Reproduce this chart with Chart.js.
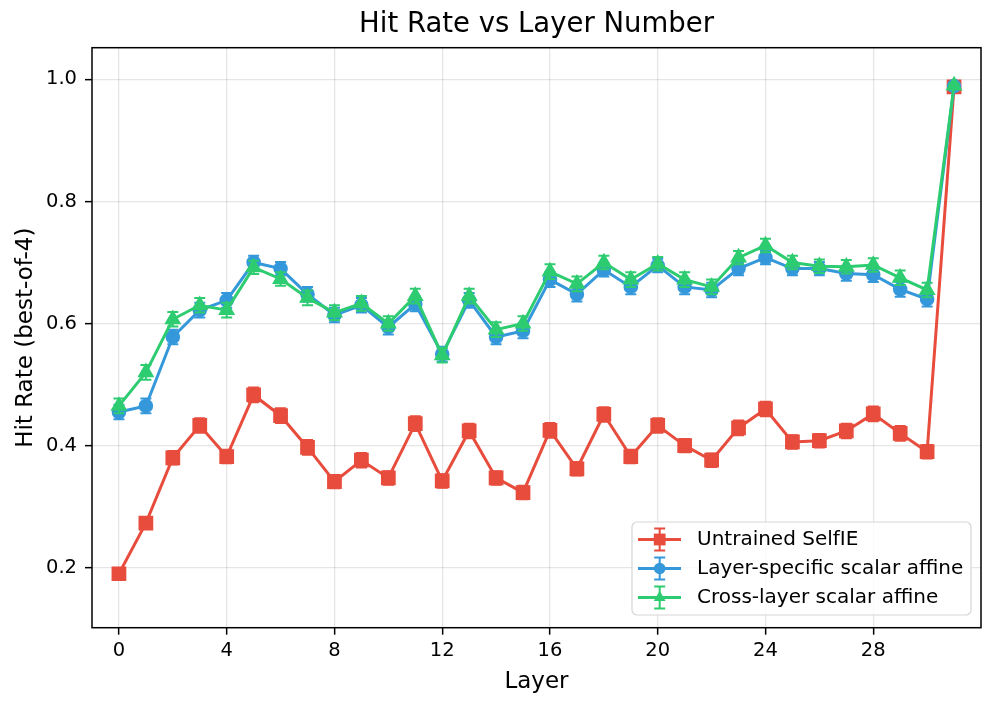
<!DOCTYPE html>
<html lang="en">
<head>
    <meta charset="UTF-8">
    <title>Hit Rate vs Layer Number</title>
    <style>
        body {
            margin: 0;
            background-color: #ffffff;
        }
        #wrap {
            width: 996px;
            height: 706px;
        }
    </style>
</head>
<body>
    <div id="wrap">
        <canvas id="hitChart" width="996" height="706"></canvas>
    </div>

    <script src="https://cdn.jsdelivr.net/npm/chart.js"></script>
    <script>
        // Data
        const layers = [0, 1, 2, 3, 4, 5, 6, 7, 8, 9, 10, 11, 12, 13, 14, 15,
                        16, 17, 18, 19, 20, 21, 22, 23, 24, 25, 26, 27, 28, 29, 30, 31];

        const untrained = [0.190, 0.273, 0.380, 0.433, 0.382, 0.483, 0.449, 0.397, 0.341, 0.376, 0.347, 0.436,
                           0.342, 0.424, 0.347, 0.323, 0.425, 0.362, 0.451, 0.382, 0.433, 0.400, 0.376, 0.429,
                           0.460, 0.406, 0.408, 0.424, 0.452, 0.420, 0.390, 0.988];
        const untrainedErr = [0.006, 0.009, 0.011, 0.012, 0.011, 0.012, 0.012, 0.012, 0.011, 0.012, 0.011, 0.012,
                              0.011, 0.012, 0.011, 0.011, 0.012, 0.011, 0.012, 0.011, 0.012, 0.011, 0.011, 0.012,
                              0.012, 0.011, 0.011, 0.012, 0.012, 0.012, 0.011, 0.003];

        const layerSpecific = [0.455, 0.465, 0.578, 0.622, 0.638, 0.700, 0.690, 0.648, 0.614, 0.630, 0.594, 0.632,
                               0.550, 0.638, 0.578, 0.588, 0.672, 0.648, 0.688, 0.660, 0.695, 0.660, 0.655, 0.690,
                               0.708, 0.690, 0.690, 0.682, 0.680, 0.656, 0.640, 0.989];
        const layerSpecificErr = [0.012, 0.012, 0.012, 0.012, 0.012, 0.011, 0.011, 0.012, 0.012, 0.012, 0.012, 0.012,
                                  0.012, 0.012, 0.012, 0.012, 0.012, 0.012, 0.011, 0.012, 0.011, 0.012, 0.012, 0.011,
                                  0.011, 0.011, 0.011, 0.012, 0.012, 0.012, 0.012, 0.003];

        const crossLayer = [0.465, 0.520, 0.607, 0.630, 0.622, 0.692, 0.673, 0.642, 0.618, 0.633, 0.600, 0.645,
                            0.548, 0.645, 0.590, 0.600, 0.685, 0.665, 0.700, 0.672, 0.698, 0.672, 0.660, 0.708,
                            0.728, 0.700, 0.694, 0.693, 0.696, 0.675, 0.655, 0.990];
        const crossLayerErr = [0.012, 0.012, 0.012, 0.012, 0.012, 0.011, 0.011, 0.012, 0.012, 0.012, 0.012, 0.012,
                               0.012, 0.012, 0.012, 0.012, 0.012, 0.012, 0.011, 0.012, 0.011, 0.012, 0.012, 0.011,
                               0.011, 0.011, 0.011, 0.011, 0.011, 0.012, 0.012, 0.003];

        const seriesNames = ['Untrained SelfIE', 'Layer-specific scalar affine', 'Cross-layer scalar affine'];
        const xTicks = [0, 4, 8, 12, 16, 20, 24, 28];
        const yTicks = [0.2, 0.4, 0.6, 0.8, 1.0];

        const RED = '#e74c3c';
        const BLUE = '#3498db';
        const GREEN = '#2ecc71';
        const FONT = "'DejaVu Sans', sans-serif";

        function toPoints(values) {
            return layers.map((l, i) => ({ x: l, y: values[i] }));
        }

        // vertical error bars with caps, drawn through the y scale
        const errorBars = {
            id: 'errorBars',
            afterDatasetDraw(chart, args) {
                const ds = chart.data.datasets[args.index];
                if (!ds.errors) return;
                const yScale = chart.scales.y;
                const ctx = chart.ctx;
                ctx.save();
                ctx.strokeStyle = ds.borderColor;
                ctx.lineWidth = 2;
                args.meta.data.forEach((pt, i) => {
                    const v = ds.data[i].y;
                    const e = ds.errors[i];
                    const top = yScale.getPixelForValue(v + e);
                    const bot = yScale.getPixelForValue(v - e);
                    ctx.beginPath();
                    ctx.moveTo(pt.x, top); ctx.lineTo(pt.x, bot);
                    ctx.moveTo(pt.x - 5.5, top); ctx.lineTo(pt.x + 5.5, top);
                    ctx.moveTo(pt.x - 5.5, bot); ctx.lineTo(pt.x + 5.5, bot);
                    ctx.stroke();
                });
                ctx.restore();
            }
        };

        function drawMarker(ctx, style, x, y) {
            ctx.beginPath();
            if (style === 'rect') {
                ctx.rect(x - 5.9, y - 5.9, 11.8, 11.8);
            } else if (style === 'circle') {
                ctx.arc(x, y, 5.8, 0, Math.PI * 2);
            } else {
                ctx.moveTo(x, y - 6.8);
                ctx.lineTo(x + 5.9, y + 3.4);
                ctx.lineTo(x - 5.9, y + 3.4);
                ctx.closePath();
            }
            ctx.fill();
        }

        // frame, title and the legend inside the plot
        const decorations = {
            id: 'decorations',
            afterDraw(chart) {
                const ctx = chart.ctx;
                const a = chart.chartArea;
                ctx.save();

                ctx.strokeStyle = '#000';
                ctx.lineWidth = 1.5;
                ctx.strokeRect(a.left, a.top, a.right - a.left, a.bottom - a.top);

                ctx.fillStyle = '#000';
                ctx.font = '27.5px ' + FONT;
                ctx.textAlign = 'center';
                ctx.textBaseline = 'middle';
                ctx.fillText('Hit Rate vs Layer Number', (a.left + a.right) / 2, 25);

                // legend box
                const bx = 632, by = 522, bw = 339, bh = 93, r = 5;
                ctx.beginPath();
                ctx.moveTo(bx + r, by);
                ctx.arcTo(bx + bw, by, bx + bw, by + bh, r);
                ctx.arcTo(bx + bw, by + bh, bx, by + bh, r);
                ctx.arcTo(bx, by + bh, bx, by, r);
                ctx.arcTo(bx, by, bx + bw, by, r);
                ctx.closePath();
                ctx.fillStyle = 'rgba(255,255,255,0.8)';
                ctx.fill();
                ctx.strokeStyle = '#d5d5d5';
                ctx.lineWidth = 1.2;
                ctx.stroke();

                chart.data.datasets.forEach((ds, i) => {
                    const cy = 539.5 + i * 29;
                    ctx.strokeStyle = ds.borderColor;
                    ctx.fillStyle = ds.borderColor;
                    ctx.lineWidth = 3;
                    ctx.beginPath();
                    ctx.moveTo(638, cy); ctx.lineTo(681, cy);
                    ctx.stroke();
                    ctx.lineWidth = 2;
                    ctx.beginPath();
                    ctx.moveTo(659.7, cy - 11); ctx.lineTo(659.7, cy + 11);
                    ctx.moveTo(654.2, cy - 11); ctx.lineTo(665.2, cy - 11);
                    ctx.moveTo(654.2, cy + 11); ctx.lineTo(665.2, cy + 11);
                    ctx.stroke();
                    drawMarker(ctx, ds.pointStyle, 659.7, cy);
                    ctx.fillStyle = '#000';
                    ctx.font = '20px ' + FONT;
                    ctx.textAlign = 'left';
                    ctx.fillText(ds.label, 697, cy);
                });
                ctx.restore();
            }
        };

        const ctx = document.getElementById('hitChart').getContext('2d');
        const chart = new Chart(ctx, {
            type: 'line',
            data: {
                datasets: [
                    {
                        label: seriesNames[0],
                        data: toPoints(untrained),
                        errors: untrainedErr,
                        borderColor: RED,
                        backgroundColor: RED,
                        pointStyle: 'rect',
                        pointRadius: 8.3,
                        borderWidth: 3,
                        order: 2
                    },
                    {
                        label: seriesNames[1],
                        data: toPoints(layerSpecific),
                        errors: layerSpecificErr,
                        borderColor: BLUE,
                        backgroundColor: BLUE,
                        pointStyle: 'circle',
                        pointRadius: 5.8,
                        borderWidth: 3,
                        order: 1
                    },
                    {
                        label: seriesNames[2],
                        data: toPoints(crossLayer),
                        errors: crossLayerErr,
                        borderColor: GREEN,
                        backgroundColor: GREEN,
                        pointStyle: 'triangle',
                        pointRadius: 6.8,
                        borderWidth: 3,
                        order: 0
                    }
                ]
            },
            options: {
                responsive: false,
                animation: false,
                layout: {
                    padding: { left: 0, right: 15, top: 47.7, bottom: 0 }
                },
                elements: {
                    line: { tension: 0 },
                    point: { borderWidth: 0, hoverRadius: 6 }
                },
                plugins: {
                    legend: { display: false },
                    title: { display: false },
                    tooltip: { enabled: false }
                },
                scales: {
                    x: {
                        type: 'linear',
                        min: -1,
                        max: 32,
                        afterFit(scale) { scale.height = 78.3; },
                        afterBuildTicks(scale) { scale.ticks = xTicks.map(v => ({ value: v })); },
                        ticks: {
                            color: '#000',
                            padding: 5,
                            font: { family: FONT, size: 19.5 },
                            callback: v => String(v)
                        },
                        grid: {
                            color: 'rgba(0,0,0,0.1)',
                            lineWidth: 1.3,
                            tickColor: '#000',
                            tickLength: 7,
                            tickWidth: 1.5
                        },
                        border: { display: false },
                        title: {
                            display: true,
                            text: 'Layer',
                            color: '#000',
                            font: { family: FONT, size: 23 },
                            padding: { top: 0, bottom: 10.5 }
                        }
                    },
                    y: {
                        min: 0.1016,
                        max: 1.052,
                        afterFit(scale) { scale.width = 92; },
                        afterBuildTicks(scale) { scale.ticks = yTicks.map(v => ({ value: v })); },
                        ticks: {
                            color: '#000',
                            padding: 8,
                            font: { family: FONT, size: 19.5 },
                            callback: v => v.toFixed(1)
                        },
                        grid: {
                            color: 'rgba(0,0,0,0.1)',
                            lineWidth: 1.3,
                            tickColor: '#000',
                            tickLength: 7,
                            tickWidth: 1.5
                        },
                        border: { display: false },
                        title: {
                            display: true,
                            text: 'Hit Rate (best-of-4)',
                            color: '#000',
                            font: { family: FONT, size: 23 },
                            padding: { top: 12, bottom: 0 }
                        }
                    }
                }
            },
            plugins: [errorBars, decorations]
        });
    </script>
</body>
</html>
